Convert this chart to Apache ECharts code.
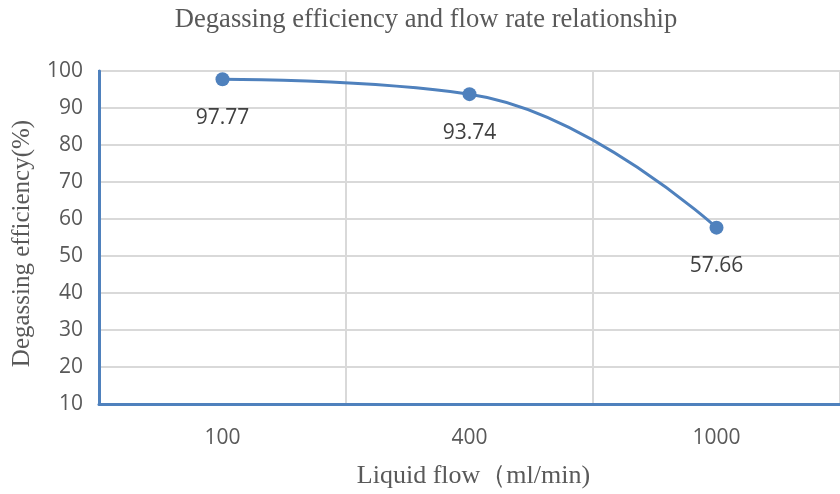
<!DOCTYPE html>
<html><head><meta charset="utf-8">
<script src="https://cdn.jsdelivr.net/npm/echarts@6/dist/echarts.min.js"></script>
<style>html,body{margin:0;padding:0;background:#fff}#c{width:840px;height:494px}</style>
</head><body><div id="c"></div>
<script>
const categories = ['100', '400', '1000'];
const efficiency = [97.77, 93.74, 57.66];
const chart = echarts.init(document.getElementById('c'));
chart.setOption({
  animation: false,
  title: {
    text: 'Degassing efficiency and flow rate relationship',
    left: 421, top: 2, textAlign: 'center',
    textStyle: { fontFamily: 'Liberation Serif', fontWeight: 'normal', fontSize: 26.6, color: '#595959' }
  },
  grid: { left: 99, top: 71, width: 747, height: 334, show: true, borderColor: '#4f81bd', borderWidth: 2, containLabel: false },
  xAxis: {
    type: 'category', data: categories, boundaryGap: true,
    name: 'Liquid flow（ml/min)', nameLocation: 'middle', nameGap: 59,
    nameTextStyle: { fontFamily: 'Liberation Serif', fontSize: 26, color: '#595959', padding: [0, 0, 0, 8] },
    axisLine: { show: true, lineStyle: { color: '#4f81bd', width: 3 } },
    axisTick: { show: false },
    axisLabel: { fontFamily: 'Open Sans', fontSize: 21, color: '#595959', margin: 24 },
    splitLine: { show: true, lineStyle: { color: '#d9d9d9', width: 2 } }
  },
  yAxis: {
    type: 'value', min: 10, max: 100, interval: 10,
    name: 'Degassing efficiency(%)', nameLocation: 'middle', nameGap: 64,
    nameTextStyle: { fontFamily: 'Liberation Serif', fontSize: 25, color: '#595959', padding: [0, 12, 0, 0] },
    axisLine: { show: true, lineStyle: { color: '#4f81bd', width: 3 } },
    axisTick: { show: false },
    axisLabel: { fontFamily: 'Open Sans', fontSize: 21, color: '#595959', margin: 16 },
    splitLine: { show: true, lineStyle: { color: '#d9d9d9', width: 2 } }
  },
  series: [{
    type: 'line', data: efficiency, smooth: 0.45,
    symbol: 'circle', symbolSize: 14,
    lineStyle: { color: '#4f81bd', width: 3 },
    itemStyle: { color: '#4f81bd' },
    label: { show: true, position: 'bottom', distance: 21, fontFamily: 'Open Sans', fontSize: 21, color: '#404040' }
  }]
});
</script></body></html>
